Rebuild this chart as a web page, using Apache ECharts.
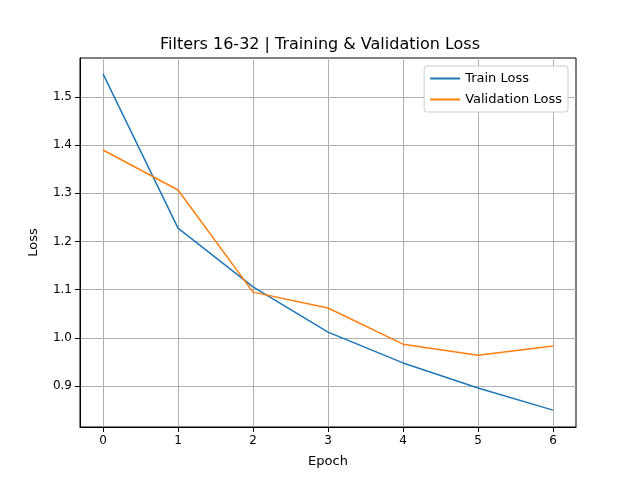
<!DOCTYPE html>
<html><head><meta charset="utf-8">
<script src="https://cdn.jsdelivr.net/npm/echarts@6/dist/echarts.min.js"></script>
</head><body style="margin:0">
<div id="chart" style="width:640px;height:480px"></div>
<script>
const epochs = [0, 1, 2, 3, 4, 5, 6];
const trainLoss = [1.548, 1.228, 1.106, 1.012, 0.948, 0.896, 0.850];
const valLoss = [1.390, 1.307, 1.095, 1.062, 0.987, 0.964, 0.983];
const yTicks = [0.9, 1.0, 1.1, 1.2, 1.3, 1.4, 1.5];

const chart = echarts.init(document.getElementById('chart'));
const font = 'DejaVu Sans';
chart.setOption({
    animation: false,
    title: { text: 'Filters 16-32 | Training & Validation Loss', left: 'center', top: 32,
        textStyle: { fontFamily: font, fontSize: 16, fontWeight: 'normal', color: '#000' } },
    legend: { right: 72, top: 66, orient: 'vertical', itemWidth: 30, itemHeight: 2, itemGap: 8,
        backgroundColor: '#fff', borderColor: '#ccc', borderWidth: 1, borderRadius: 3, padding: [6, 6],
        textStyle: { fontFamily: font, fontSize: 13, color: '#000' },
        data: [{ name: 'Train Loss', icon: 'rect' }, { name: 'Validation Loss', icon: 'rect' }] },
    grid: { left: 80, right: 64, top: 58, bottom: 53, show: true, borderColor: '#000', borderWidth: 1 },
    xAxis: { type: 'value', min: -0.307, max: 6.307, name: 'Epoch', nameLocation: 'middle', nameGap: 28,
        nameTextStyle: { fontFamily: font, fontSize: 13, color: '#000' },
        axisLine: { onZero: false, lineStyle: { color: '#000' } },
        axisTick: { customValues: epochs, lineStyle: { color: '#000' } },
        axisLabel: { customValues: epochs, fontFamily: font, fontSize: 12, color: '#000' },
        splitLine: { show: true, lineStyle: { color: '#b0b0b0' } } },
    yAxis: { type: 'value', min: 0.815, max: 1.581, name: 'Loss', nameLocation: 'middle', nameGap: 40,
        nameTextStyle: { fontFamily: font, fontSize: 13, color: '#000' },
        axisLine: { show: true, onZero: false, lineStyle: { color: '#000' } },
        axisTick: { show: true, customValues: yTicks, lineStyle: { color: '#000' } },
        axisLabel: { customValues: yTicks, fontFamily: font, fontSize: 12, color: '#000',
            formatter: v => v.toFixed(1) },
        splitLine: { show: true, lineStyle: { color: '#b0b0b0' } } },
    series: [
        { name: 'Train Loss', type: 'line', data: epochs.map((e, i) => [e, trainLoss[i]]),
            showSymbol: false, color: '#1f77b4', lineStyle: { width: 1.5 } },
        { name: 'Validation Loss', type: 'line', data: epochs.map((e, i) => [e, valLoss[i]]),
            showSymbol: false, color: '#ff7f0e', lineStyle: { width: 1.5 } }
    ]
});
</script>
</body></html>
